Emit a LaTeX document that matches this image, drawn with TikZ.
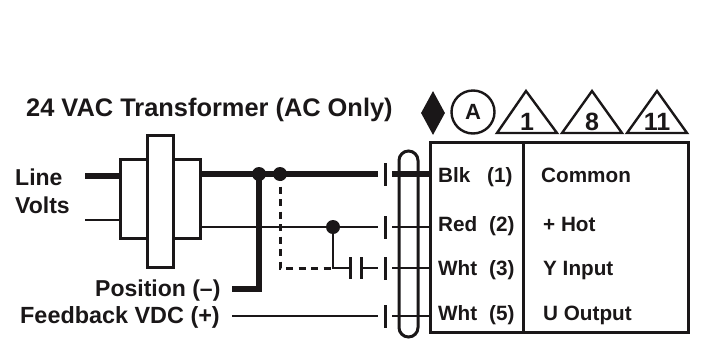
\documentclass[tikz,border=0pt]{standalone}
\usepackage{fontspec}
\setmainfont{Liberation Sans}
\usetikzlibrary{shapes.geometric}
\definecolor{ink}{HTML}{1A1718}
\tikzset{
  thinw/.style={draw=ink,line width=2pt},
  thickw/.style={draw=ink,line width=6pt},
  boxw/.style={draw=ink,line width=3pt},
  bar/.style={draw=ink,line width=3pt},
  dot/.style={circle,fill=ink,inner sep=0pt,minimum size=14pt},
  lab/.style={font=\bfseries\fontsize{23}{23}\selectfont,text=ink,inner sep=0pt,anchor=base west},
  title/.style={font=\bfseries\fontsize{25.4}{25.4}\selectfont,text=ink,inner sep=0pt,anchor=base west},
  term/.style={font=\bfseries\fontsize{20.7}{20.7}\selectfont,text=ink,inner sep=0pt,anchor=base west},
  tri/.style={draw=ink,line width=2.4pt,line join=miter},
  trilab/.style={font=\bfseries\fontsize{25}{25}\selectfont,text=ink,inner sep=0pt,anchor=base},
}
\begin{document}
\begin{tikzpicture}[x=1pt,y=-1pt]
\useasboundingbox (0,0) rectangle (704,338);
% labels
\node[title] (ttl) at (26,116) {24 VAC Transformer (AC Only)};
\node[lab] (line) at (15,185) {Line};
\node[lab] (volts) at (15,213) {Volts};
\node[lab] (pos) at (95,296) {Position (–)};
\node[lab,font=\bfseries\fontsize{23.4}{23.4}\selectfont] (fb) at (20,323) {Feedback VDC (+)};
% free ends
\coordinate (linea) at (85,176);
\coordinate (lineb) at (85,220);
\coordinate (posa) at (232,289);
\coordinate (posc) at (259,289);
\coordinate (fba) at (232,316);
% transformer
\node[boxw,minimum width=80pt,minimum height=79pt,inner sep=0pt,rectangle] (tr) at (160,198.5) {};
\node[boxw,fill=white,minimum width=26pt,minimum height=132pt,inner sep=0pt,rectangle] (core) at (160,201) {};
% terminal bars
\coordinate (b1) at (385,174);
\coordinate (b2) at (385,227);
\coordinate (b3) at (385,268);
\coordinate (b4) at (385,316);
\coordinate (t1) at (430,174);
\coordinate (t2) at (430,227);
\coordinate (t3) at (430,268);
\coordinate (t4) at (430,316);
\foreach \b in {b1,b2,b3,b4}{
  \draw[bar] ([yshift=-11.5pt]\b) -- ([yshift=11.5pt]\b);
}
% wires
\draw[thickw] (linea) -- (120,176);
\draw[thinw] (lineb) -- (120,220);
\node[dot] (j1) at (259,174) {};
\node[dot] (j2) at (280,174) {};
\node[dot] (j3) at (333,227) {};
\draw[thickw] (200,174) -- ([xshift=-7pt]b1);
\draw[thinw] (200,227) -- ([xshift=-7pt]b2);
\draw[thickw] (j1.center) -- (posc);
\draw[thickw] (posa) -- ([xshift=3pt]posc);
\draw[draw=ink,line width=3pt,dash pattern=on 7pt off 5.5pt] (j2.center) -- (280,268) -- (333,268);
\draw[draw=ink,line width=2.6pt] (j3.center) -- (333,268) -- (350,268);
\draw[bar] (350,257) -- (350,279);
\draw[bar] (361,257) -- (361,279);
\draw[thinw] (361,268) -- ([xshift=-7pt]b3);
\draw[thinw] (fba) -- ([xshift=-7pt]b4);
% pill
\draw[draw=ink,line width=3pt,rounded corners=9.5pt] (399,337) rectangle (418,151);
% leads
\draw[thickw] ([xshift=7pt]b1) -- (t1);
\draw[thinw] ([xshift=7pt]b2) -- (t2);
\draw[thinw] ([xshift=7pt]b3) -- (t3);
\draw[thinw] ([xshift=7pt]b4) -- (t4);
% terminal box
\draw[draw=ink,line width=3pt] (430,142) rectangle (688,332);
\draw[draw=ink,line width=3pt] (523,142) -- (523,332);
\node[term] (l1) at (438,182) {Blk};
\node[term] (n1) at (487,182) {(1)};
\node[term] (l2) at (438,231) {Red};
\node[term] (n2) at (489,231) {(2)};
\node[term] (l3) at (438,275) {Wht};
\node[term] (n3) at (489,275) {(3)};
\node[term] (l4) at (438,320) {Wht};
\node[term] (n4) at (489,320) {(5)};
\node[term] (c1) at (541,182) {Common};
\node[term] (c2) at (543,231) {+ Hot};
\node[term] (c3) at (543,275) {Y Input};
\node[term] (c4) at (543,320) {U Output};
% symbols
\node[diamond,fill=ink,inner sep=0pt,minimum width=24pt,minimum height=44pt,aspect=0.55] (dia) at (433,113) {};
\node[circle,draw=ink,line width=2.4pt,minimum size=43pt,inner sep=0pt,font=\bfseries\fontsize{22}{22}\selectfont,text=ink] (circA) at (473,112) {A};
\draw[tri] (526,91) -- (497,133) -- (557,133) -- cycle;
\draw[tri] (592,91) -- (562,133) -- (622,133) -- cycle;
\draw[tri] (657,91) -- (627,133) -- (687,133) -- cycle;
\node[trilab] (t-a) at (527,130) {1};
\node[trilab] (t-b) at (592,130) {8};
\node[trilab] (t-c) at (657,130) {11};
\end{tikzpicture}
\end{document}
